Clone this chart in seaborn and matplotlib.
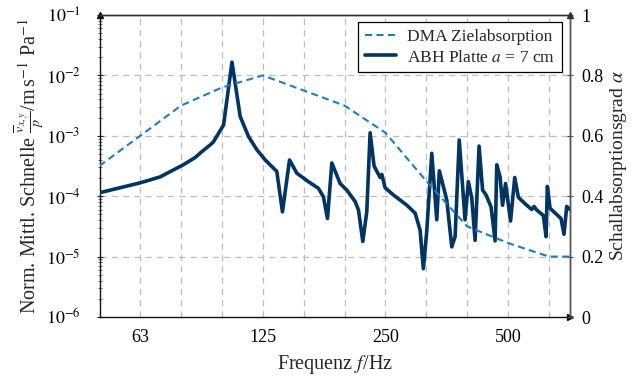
import numpy as np
import pandas as pd
import matplotlib
matplotlib.use("Agg")
import matplotlib.pyplot as plt
import seaborn as sns
from matplotlib.ticker import FixedLocator, NullFormatter, LogLocator

# ---------------- data ----------------
freq_abh = [50.4, 56.3, 63.0, 70.6, 80.4, 86.0, 89.0, 93.6, 95.3, 100.9, 105.8, 110.8,
            116.1, 121.7, 127.6, 136.2, 140.6, 146.3, 152.5, 162.8, 172.2, 177.1, 181.2,
            185.7, 194.6, 202.1, 211.8, 215.8, 221.1, 226.1, 230.4, 235.6, 243.8, 246.1,
            250.7, 262.7, 283.4, 296.9, 305.3, 311.0, 317.0, 326.1, 335.4, 340.3, 354.8,
            365.0, 371.9, 380.7, 393.3, 400.7, 408.5, 416.2, 425.7, 434.2, 442.8, 455.5,
            465.9, 470.3, 479.1, 485.9, 494.2, 508.3, 520.4, 531.2, 556.9, 572.8, 580.3,
            589.2, 611.5, 620.8, 625.4, 635.0, 675.4, 686.9, 697.4, 710.5]
v_abh = [1.15e-4, 1.38e-4, 1.66e-4, 2.09e-4, 3.31e-4, 4.37e-4, 5.37e-4, 7.08e-4, 7.94e-4,
         1.51e-3, 1.66e-2, 2.09e-3, 9.77e-4, 5.89e-4, 3.98e-4, 2.57e-4, 5.50e-5, 3.98e-4,
         2.40e-4, 1.74e-4, 1.35e-4, 9.77e-5, 4.27e-5, 3.55e-4, 1.62e-4, 1.26e-4, 8.13e-5,
         5.89e-5, 1.78e-5, 5.50e-5, 1.12e-3, 3.16e-4, 2.04e-4, 2.29e-4, 1.38e-4, 1.05e-4,
         7.08e-5, 5.25e-5, 2.75e-5, 6.31e-6, 2.63e-5, 5.13e-4, 4.07e-5, 2.63e-4, 8.71e-5,
         1.45e-5, 2.14e-5, 8.51e-4, 4.07e-5, 1.74e-4, 9.33e-5, 1.86e-5, 6.76e-4, 1.26e-4,
         1.05e-4, 6.61e-5, 1.82e-5, 3.31e-4, 2.09e-4, 7.08e-5, 1.62e-4, 3.89e-5, 2.04e-4,
         9.55e-5, 7.08e-5, 6.03e-5, 6.76e-5, 5.89e-5, 4.79e-5, 2.14e-5, 1.45e-4, 6.31e-5,
         4.27e-5, 2.34e-5, 6.76e-5, 6.03e-5]

freq_dma = [50.1, 63.1, 79.4, 100.0, 125.9, 158.5, 199.5, 251.2, 316.2, 398.1, 501.2, 631.0, 710.0]
alpha_dma = [0.50, 0.60, 0.70, 0.76, 0.80, 0.75, 0.70, 0.61, 0.45, 0.30, 0.245, 0.20, 0.20]

xgrid = [63.1, 79.4, 100.0, 125.9, 158.5, 199.5, 251.2, 316.2, 398.1, 501.2, 631.0]
xtick_pos = [63.1, 125.9, 251.2, 501.2]
xtick_labels = ["63", "125", "250", "500"]
ytick_left = [1e-6, 1e-5, 1e-4, 1e-3, 1e-2, 1e-1]
ytick_left_labels = [r"$10^{-6}$", r"$10^{-5}$", r"$10^{-4}$", r"$10^{-3}$", r"$10^{-2}$", r"$10^{-1}$"]
ytick_right = [0, 0.2, 0.4, 0.6, 0.8, 1.0]
ytick_right_labels = ["0", "0.2", "0.4", "0.6", "0.8", "1"]

label_dma = "DMA Zielabsorption"
label_abh = r"ABH Platte $a$ = 7 cm"

df_abh = pd.DataFrame({"f": freq_abh, "v": v_abh})
df_dma = pd.DataFrame({"f": freq_dma, "alpha": alpha_dma})

# ---------------- style ----------------
sns.set_theme(style="white")
plt.rcParams['font.family'] = ['Liberation Serif', 'DejaVu Serif']
plt.rcParams['mathtext.fontset'] = 'stix'
FS_TICK = 13
FS_LAB = 14.5
FS_LEG = 12.5

navy = "#003462"
blue = "#1f7bc4"
gridc = "#bdbdbd"

fig = plt.figure(figsize=(6.35, 3.76), dpi=100)
ax = fig.add_axes([100/635, 1 - 317/376, 470/635, 302/376])
ax.set_xscale("log")
ax.set_yscale("log")
ax.set_xlim(50.3, 710.5)
ax.set_ylim(1e-6, 1e-1)

# grid
for g in xgrid:
    ax.axvline(g, color=gridc, lw=0.9, ls=(0, (5, 4)), zorder=0)
for g in ytick_left[1:-1]:
    ax.axhline(g, color=gridc, lw=0.9, ls=(0, (5, 4)), zorder=0)

sns.lineplot(data=df_abh, x="f", y="v", ax=ax, color=navy, lw=2.6,
             label=label_abh, legend=False, zorder=3, estimator=None, sort=False)
h_abh = ax.lines[-1]

ax2 = ax.twinx()
ax2.set_ylim(0, 1)
sns.lineplot(data=df_dma, x="f", y="alpha", ax=ax2, color=blue, lw=1.5,
             label=label_dma, legend=False, zorder=3, estimator=None, sort=False)
h_dma = ax2.lines[-1]
h_dma.set_dashes((3.4, 2.1))
ax2.set_xlim(50.3, 710.5)

# ticks
ax.xaxis.set_major_locator(FixedLocator(xtick_pos))
ax.set_xticklabels(xtick_labels)
ax.xaxis.set_minor_locator(FixedLocator(xgrid))
ax.xaxis.set_minor_formatter(NullFormatter())
ax.set_yticks(ytick_left)
ax.set_yticklabels(ytick_left_labels)
ax.yaxis.set_minor_locator(LogLocator(base=10, subs=np.arange(2, 10)))
ax.yaxis.set_minor_formatter(NullFormatter())
ax.tick_params(axis="both", which="major", labelsize=FS_TICK, direction="inout", length=4,
               width=0.8, colors="#222222", labelcolor="black")
ax.tick_params(axis="both", which="minor", direction="inout", length=3, width=0.6,
               colors="#555555")
ax.tick_params(axis="x", which="major", pad=7)
ax.tick_params(axis="y", which="major", pad=12)

ax2.set_yticks(ytick_right)
ax2.set_yticklabels(ytick_right_labels)
ax2.tick_params(axis="y", labelsize=FS_TICK, direction="inout", length=4, width=0.8,
                colors="#555555", labelcolor="black", pad=6)

# spines
for a in (ax, ax2):
    for s in a.spines.values():
        s.set_linewidth(1.0)
ax.spines["left"].set_color("#111111")
ax.spines["bottom"].set_color("#111111")
ax.spines["top"].set_color("#333333")
ax2.spines["right"].set_color("#555555")
ax2.spines["top"].set_color("#333333")
ax2.spines["left"].set_visible(False)
ax2.spines["bottom"].set_visible(False)

# arrow tips
ax.plot([0], [1], marker="^", ms=4, color="#111111", transform=ax.transAxes, clip_on=False, zorder=6)
ax.plot([1], [0], marker=">", ms=4, color="#111111", transform=ax.transAxes, clip_on=False, zorder=6)
ax2.plot([1], [1], marker="^", ms=4, color="#333333", transform=ax2.transAxes, clip_on=False, zorder=6)

# labels
ax.set_xlabel(r"Frequenz $f$/Hz", fontsize=FS_LAB, labelpad=5)
ax.set_ylabel(r"Norm. Mittl. Schnelle $\frac{\overline{v}_{x,y}}{p}$/m$\,$s$^{-1}$ Pa$^{-1}$",
              fontsize=FS_LAB, labelpad=0)
ax2.set_ylabel(r"Schallabsorptionsgrad $\alpha$", fontsize=FS_LAB - 0.5, labelpad=3)

# legend
leg = ax2.legend([h_dma, h_abh], [label_dma, label_abh], loc="upper right",
                 bbox_to_anchor=(0.983, 0.977), borderaxespad=0, fontsize=FS_LEG,
                 frameon=True, fancybox=False, edgecolor="black", framealpha=1,
                 handlelength=1.8, handletextpad=0.6, borderpad=0.4, labelspacing=0.25)
leg.get_frame().set_linewidth(0.9)
leg.set_zorder(10)

fig.savefig("out.png", dpi=100)
